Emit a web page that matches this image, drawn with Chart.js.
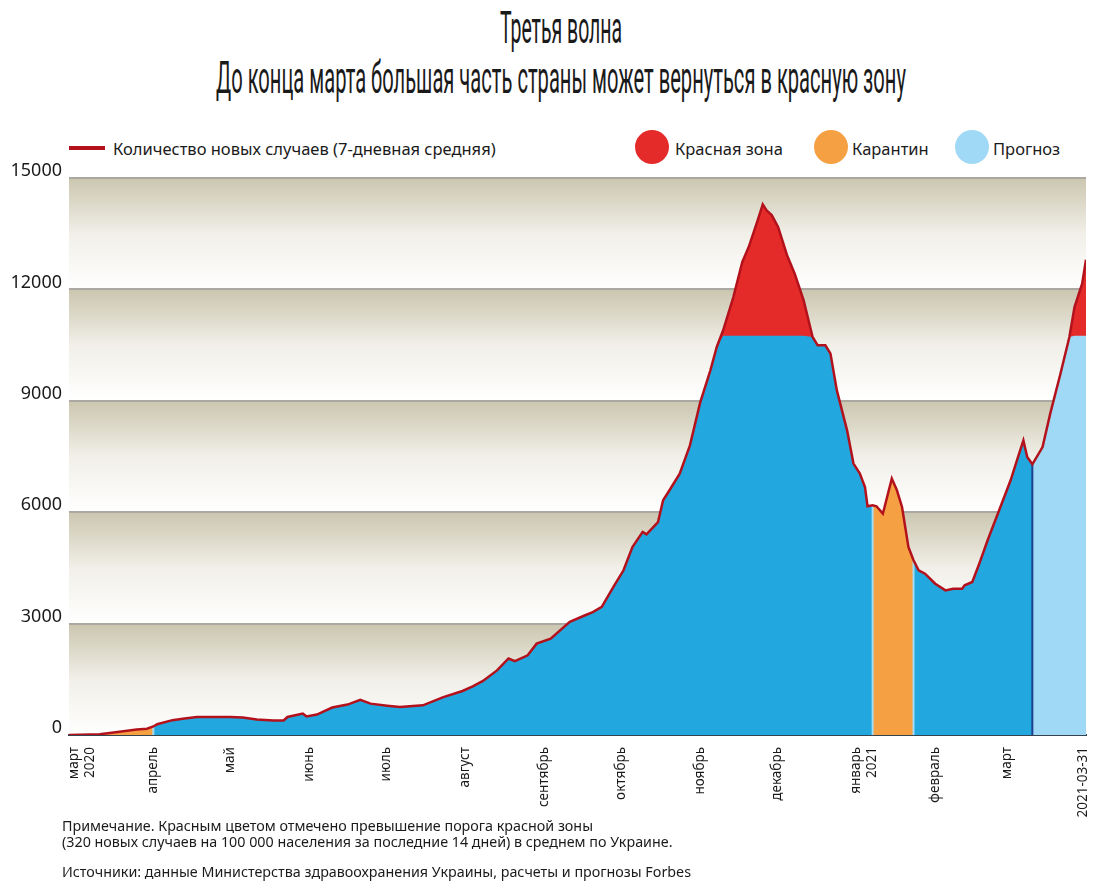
<!DOCTYPE html>
<html>
<head>
<meta charset="utf-8">
<script src="https://cdn.jsdelivr.net/npm/chart.js@4.4.0/dist/chart.umd.min.js"></script>
<style>
	body { margin: 0; width: 1100px; height: 886px; background: #fff; position: relative; overflow: hidden; font-family: 'Noto Sans', sans-serif; color: #1a1a1a; }
	.title { position: absolute; left: 561px; font-family: Roboto, sans-serif; font-weight: 400; font-size: 44px; line-height: 44px; color: #1a1a1a; white-space: nowrap; transform-origin: 50% 50%; }
	.legend-text { position: absolute; font-size: 16.5px; line-height: 22px; top: 138px; white-space: nowrap; color: #1a1a1a; }
	.dot { position: absolute; width: 34px; height: 34px; border-radius: 50%; top: 130px; }
	.note { position: absolute; left: 62px; font-size: 14.3px; line-height: 16px; white-space: nowrap; color: #1a1a1a; }
	#wrap { position: absolute; left: 0; top: 160px; width: 1100px; height: 660px; }
</style>
</head>
<body>
<div class="title" id="t1" style="top:6px">Третья волна</div>
<div class="title" id="t2" style="top:56px">До конца марта большая часть страны может вернуться в красную зону</div>

<div style="position:absolute;left:69px;top:146px;width:36px;height:4px;background:#b3121c"></div>
<div class="legend-text" style="left:113px">Количество новых случаев (7-дневная средняя)</div>
<div class="dot" style="left:635px;background:#e52b2a"></div>
<div class="legend-text" style="left:675px">Красная зона</div>
<div class="dot" style="left:814px;background:#f5a042"></div>
<div class="legend-text" style="left:852px">Карантин</div>
<div class="dot" style="left:955px;background:#a0d9f5"></div>
<div class="legend-text" style="left:993px">Прогноз</div>

<div id="wrap"><canvas id="covid-chart" width="1100" height="660"></canvas></div>

<div class="note" style="top:818px">Примечание. Красным цветом отмечено превышение порога красной зоны<br>(320 новых случаев на 100 000 населения за последние 14 дней) в среднем по Украине.</div>
<div class="note" style="top:864px">Источники: данные Министерства здравоохранения Украины, расчеты и прогнозы Forbes</div>

<script>
// days counted from 1 March 2020
var days = [-2, 10, 17, 24.5, 28.5, 31, 32.5, 38.5, 42.5, 48, 61, 66, 71.5, 78, 82, 83.5, 89.5, 91, 95, 101,
	107, 112, 116, 122.5, 127.5, 136.5, 144.5, 152, 156, 160, 165.5, 170, 172.5, 177.5, 181, 186.5, 194, 200, 203, 206.5,
	211, 215, 218.5, 222.5, 224, 228.5, 230.5, 233, 237, 241, 245, 249, 251.5, 254, 258, 261.5, 264, 267.5, 269.5, 271,
	273, 275.5, 279, 282, 285.5, 289, 291, 294, 296, 298.5, 302.5, 305, 307.5, 309.5, 310.5, 312.5, 314, 316.5, 320, 322,
	324, 326.5, 328.5, 330.5, 333, 337, 341, 344, 347.5, 348.5, 351.5, 354, 357.5, 362.5, 366.5, 369, 371.5, 373, 375, 379,
	382, 386, 389.5, 391.5, 394.5, 396];
var cases = [0, 20, 80, 150, 170, 230, 290, 400, 440, 485, 485, 470, 415, 390, 390, 485, 575, 500, 550, 740,
	820, 950, 845, 790, 755, 800, 1020, 1185, 1310, 1455, 1740, 2060, 1990, 2145, 2460, 2595, 3045, 3225, 3310, 3450,
	3985, 4435, 5060, 5470, 5405, 5735, 6320, 6590, 7040, 7800, 8950, 9820, 10450, 10900, 11795, 12740, 13140, 13860, 14290, 14130,
	14000, 13680, 12920, 12425, 11705, 10720, 10495, 10495, 10270, 9280, 8205, 7310, 7040, 6680, 6160, 6185, 6160, 5960, 6905, 6590,
	6140, 5065, 4705, 4435, 4345, 4075, 3895, 3940, 3940, 4030, 4120, 4570, 5245, 6140, 6860, 7400, 7935, 7485, 7290, 7755,
	8655, 9730, 10720, 11525, 12155, 12800];

var monthTicks = [0, 31, 61, 92, 122, 153, 184, 214, 245, 275, 306, 337, 365, 395];
var monthLabels = [['март', '2020'], 'апрель', 'май', 'июнь', 'июль', 'август', 'сентябрь', 'октябрь', 'ноябрь', 'декабрь', ['январь', '2021'], 'февраль', 'март', '2021-03-31'];
var yTicks = [0, 3000, 6000, 9000, 12000, 15000];

var redZone = 10750;
var quarantine = [[10, 31], [312.5, 328.5]];
var forecastFrom = 375;

var points = days.map(function (d, i) { return {x: d, y: cases[i]}; });
var capped = days.map(function (d, i) { return {x: d, y: Math.min(cases[i], redZone)}; });

function regionColor(x) {
	if (x >= forecastFrom) return '#a0d9f5';
	for (var i = 0; i < quarantine.length; i++) {
		if (x >= quarantine[i][0] && x < quarantine[i][1]) return '#f5a042';
	}
	return '#22a8df';
}

function divider(day, color) {
	var i = days.indexOf(day);
	return {
		data: [{x: day, y: 0}, {x: day, y: cases[i]}],
		borderColor: color,
		borderWidth: 2,
		pointRadius: 0,
		fill: false
	};
}

var bandsPlugin = {
	id: 'bands',
	beforeDraw: function (chart) {
		var ctx = chart.ctx, area = chart.chartArea, y = chart.scales.y;
		for (var i = 0; i < yTicks.length - 1; i++) {
			var top = y.getPixelForValue(yTicks[i + 1]);
			var bottom = y.getPixelForValue(yTicks[i]);
			var g = ctx.createLinearGradient(0, top, 0, bottom);
			g.addColorStop(0, '#cbc6af');
			g.addColorStop(0.5, '#f1efe8');
			g.addColorStop(1, '#ffffff');
			ctx.fillStyle = g;
			ctx.fillRect(area.left, top, area.right - area.left, bottom - top);
		}
	}
};

var ctx = document.getElementById('covid-chart').getContext('2d');
var myChart = new Chart(ctx, {
	type: 'line',
	data: {
		datasets: [
			{
				data: points,
				borderColor: '#b3121c',
				borderWidth: 2.5,
				pointRadius: 0,
				fill: false
			},
			divider(quarantine[0][1], '#a6dcf3'),
			divider(quarantine[1][0], '#a6dcf3'),
			divider(quarantine[1][1], '#a6dcf3'),
			divider(forecastFrom, '#1f3f8f'),
			{
				data: capped,
				borderWidth: 0,
				pointRadius: 0,
				backgroundColor: '#22a8df',
				fill: 'origin',
				segment: {
					backgroundColor: function (c) { return regionColor(c.p0.parsed.x); }
				}
			},
			{
				data: points,
				borderWidth: 0,
				pointRadius: 0,
				backgroundColor: '#e52b2a',
				fill: 'origin'
			}
		]
	},
	options: {
		responsive: false,
		animation: false,
		layout: {padding: {top: 18, right: 14, left: 0, bottom: 0}},
		plugins: {legend: {display: false}, tooltip: {enabled: false}},
		scales: {
			x: {
				type: 'linear',
				min: -2,
				max: 396,
				z: 1,
				grid: {display: false},
				border: {display: true, color: '#34434d', width: 2},
				afterBuildTicks: function (scale) {
					scale.ticks = monthTicks.map(function (v) { return {value: v}; });
				},
				afterFit: function (scale) {
					scale.height = 85;
					scale.paddingLeft = 0;
					scale.paddingRight = 0;
				},
				ticks: {
					autoSkip: false,
					maxRotation: 90,
					minRotation: 90,
					padding: 4,
					color: '#1a1a1a',
					font: {family: 'Noto Sans', size: 13.5},
					callback: function (value, index) { return monthLabels[index]; }
				}
			},
			y: {
				min: 0,
				max: 15000,
				border: {display: false},
				afterBuildTicks: function (scale) {
					scale.ticks = yTicks.map(function (v) { return {value: v}; });
				},
				afterFit: function (scale) { scale.width = 69; },
				grid: {
					drawTicks: false,
					lineWidth: 2,
					color: function (c) { return c.tick.value === 0 ? '#34434d' : '#aaa8a0'; }
				},
				ticks: {
					padding: 7,
					labelOffset: -7,
					color: '#1a1a1a',
					font: {family: 'Noto Sans', size: 18},
					callback: function (value) { return String(value); }
				}
			}
		}
	},
	plugins: [bandsPlugin]
});

// squeeze the headline into its narrow width, centred on the chart
function fitTitle(id, width) {
	var el = document.getElementById(id);
	var w = el.offsetWidth;
	el.style.transform = 'translateX(-50%) scaleX(' + (width / w) + ')';
}
fitTitle('t1', 122);
fitTitle('t2', 690);
</script>
</body>
</html>
